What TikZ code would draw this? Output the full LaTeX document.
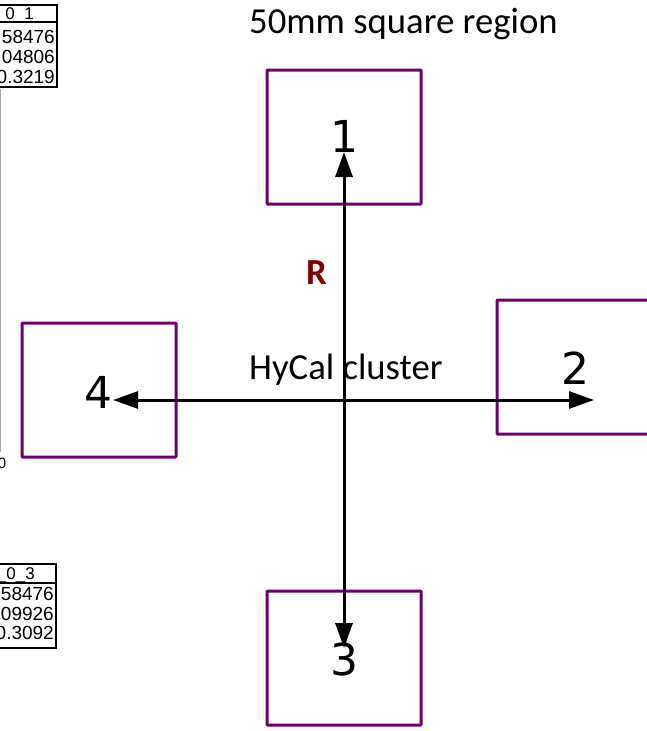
\documentclass[tikz,border=0pt]{standalone}
\usepackage{fontspec}
\setmainfont{Carlito}
\newfontfamily\numfont{DejaVu Sans}
\newfontfamily\statfont{Liberation Sans}
\usetikzlibrary{arrows.meta}
\definecolor{boxpurple}{RGB}{108,0,108}
\definecolor{rlabel}{RGB}{128,0,0}
\tikzset{
  region/.style={draw=boxpurple, line width=3pt, minimum width=154pt, minimum height=134pt, inner sep=0pt, rounded corners=0.8pt},
  numlabel/.style={font=\numfont\fontsize{44}{44}\selectfont, inner sep=0pt, anchor=base},
  biglabel/.style={font=\fontsize{36.7}{40}\selectfont, inner sep=0pt, anchor=base west},
  arr/.style={line width=3pt, -{Triangle[length=25pt,width=17pt]}},
  statbox/.style={draw=black, line width=1.3pt},
  stattext/.style={font=\statfont\fontsize{19}{20}\selectfont, inner sep=0pt, anchor=base east},
  stathead/.style={font=\statfont\fontsize{17}{17}\selectfont, inner sep=0pt, anchor=base east},
}
\begin{document}
\begin{tikzpicture}[x=1pt,y=-1pt]
\useasboundingbox (0,0) rectangle (647,731);
\clip (0,0) rectangle (647,731);
% left stat boxes (clipped)
\draw[statbox] (-40,5) rectangle (57,87);
\draw[statbox] (-40,22) -- (57,22);
\node[stathead] (h1) at (34,19) {\_0\_1};
\node[stattext] (a1) at (55,43) {58476};
\node[stattext] (b1) at (55,63) {04806};
\node[stattext] (c1) at (55,83) {0.3219};
\draw[statbox] (-40,564) rectangle (56,648);
\draw[statbox] (-40,583) -- (56,583);
\node[stathead] (h3) at (35,579) {\_0\_3};
\node[stattext] (a3) at (54,600) {58476};
\node[stattext] (b3) at (54,620) {09926};
\node[stattext] (c3) at (54,639) {0.3092};
\draw[gray!70, line width=1pt] (0.8,89) -- (0.8,452);
\node[font=\statfont\fontsize{15}{15}\selectfont, inner sep=0pt, anchor=base] (zero) at (2,468) {0};
% regions
\node[region] (r1) at (344,137) {};
\node[region] (r2) at (574,367) {};
\node[region] (r3) at (344,658) {};
\node[region] (r4) at (99,390) {};
% labels
\node[numlabel] (n1) at (344,152) {1};
\node[numlabel] (n2) at (575,384) {2};
\node[numlabel] (n3) at (344,675) {3};
\node[numlabel] (n4) at (98,408) {4};
\node[biglabel] (title) at (249,33) {50mm square region};
\node[biglabel] (hycal) at (249,379) {HyCal cluster};
\node[biglabel, font=\bfseries\fontsize{36.7}{40}\selectfont, text=rlabel] (R) at (306,284) {R};
% arrows
\coordinate (c) at (344,400);
\coordinate (t1) at (344,152);
\coordinate (t2) at (594,400);
\coordinate (t3) at (344,648);
\coordinate (t4) at (113,400);
\draw[arr] (c) -- (t1);
\draw[arr] (c) -- (t2);
\draw[arr] (c) -- (t3);
\draw[arr] (c) -- (t4);
\end{tikzpicture}
\end{document}
